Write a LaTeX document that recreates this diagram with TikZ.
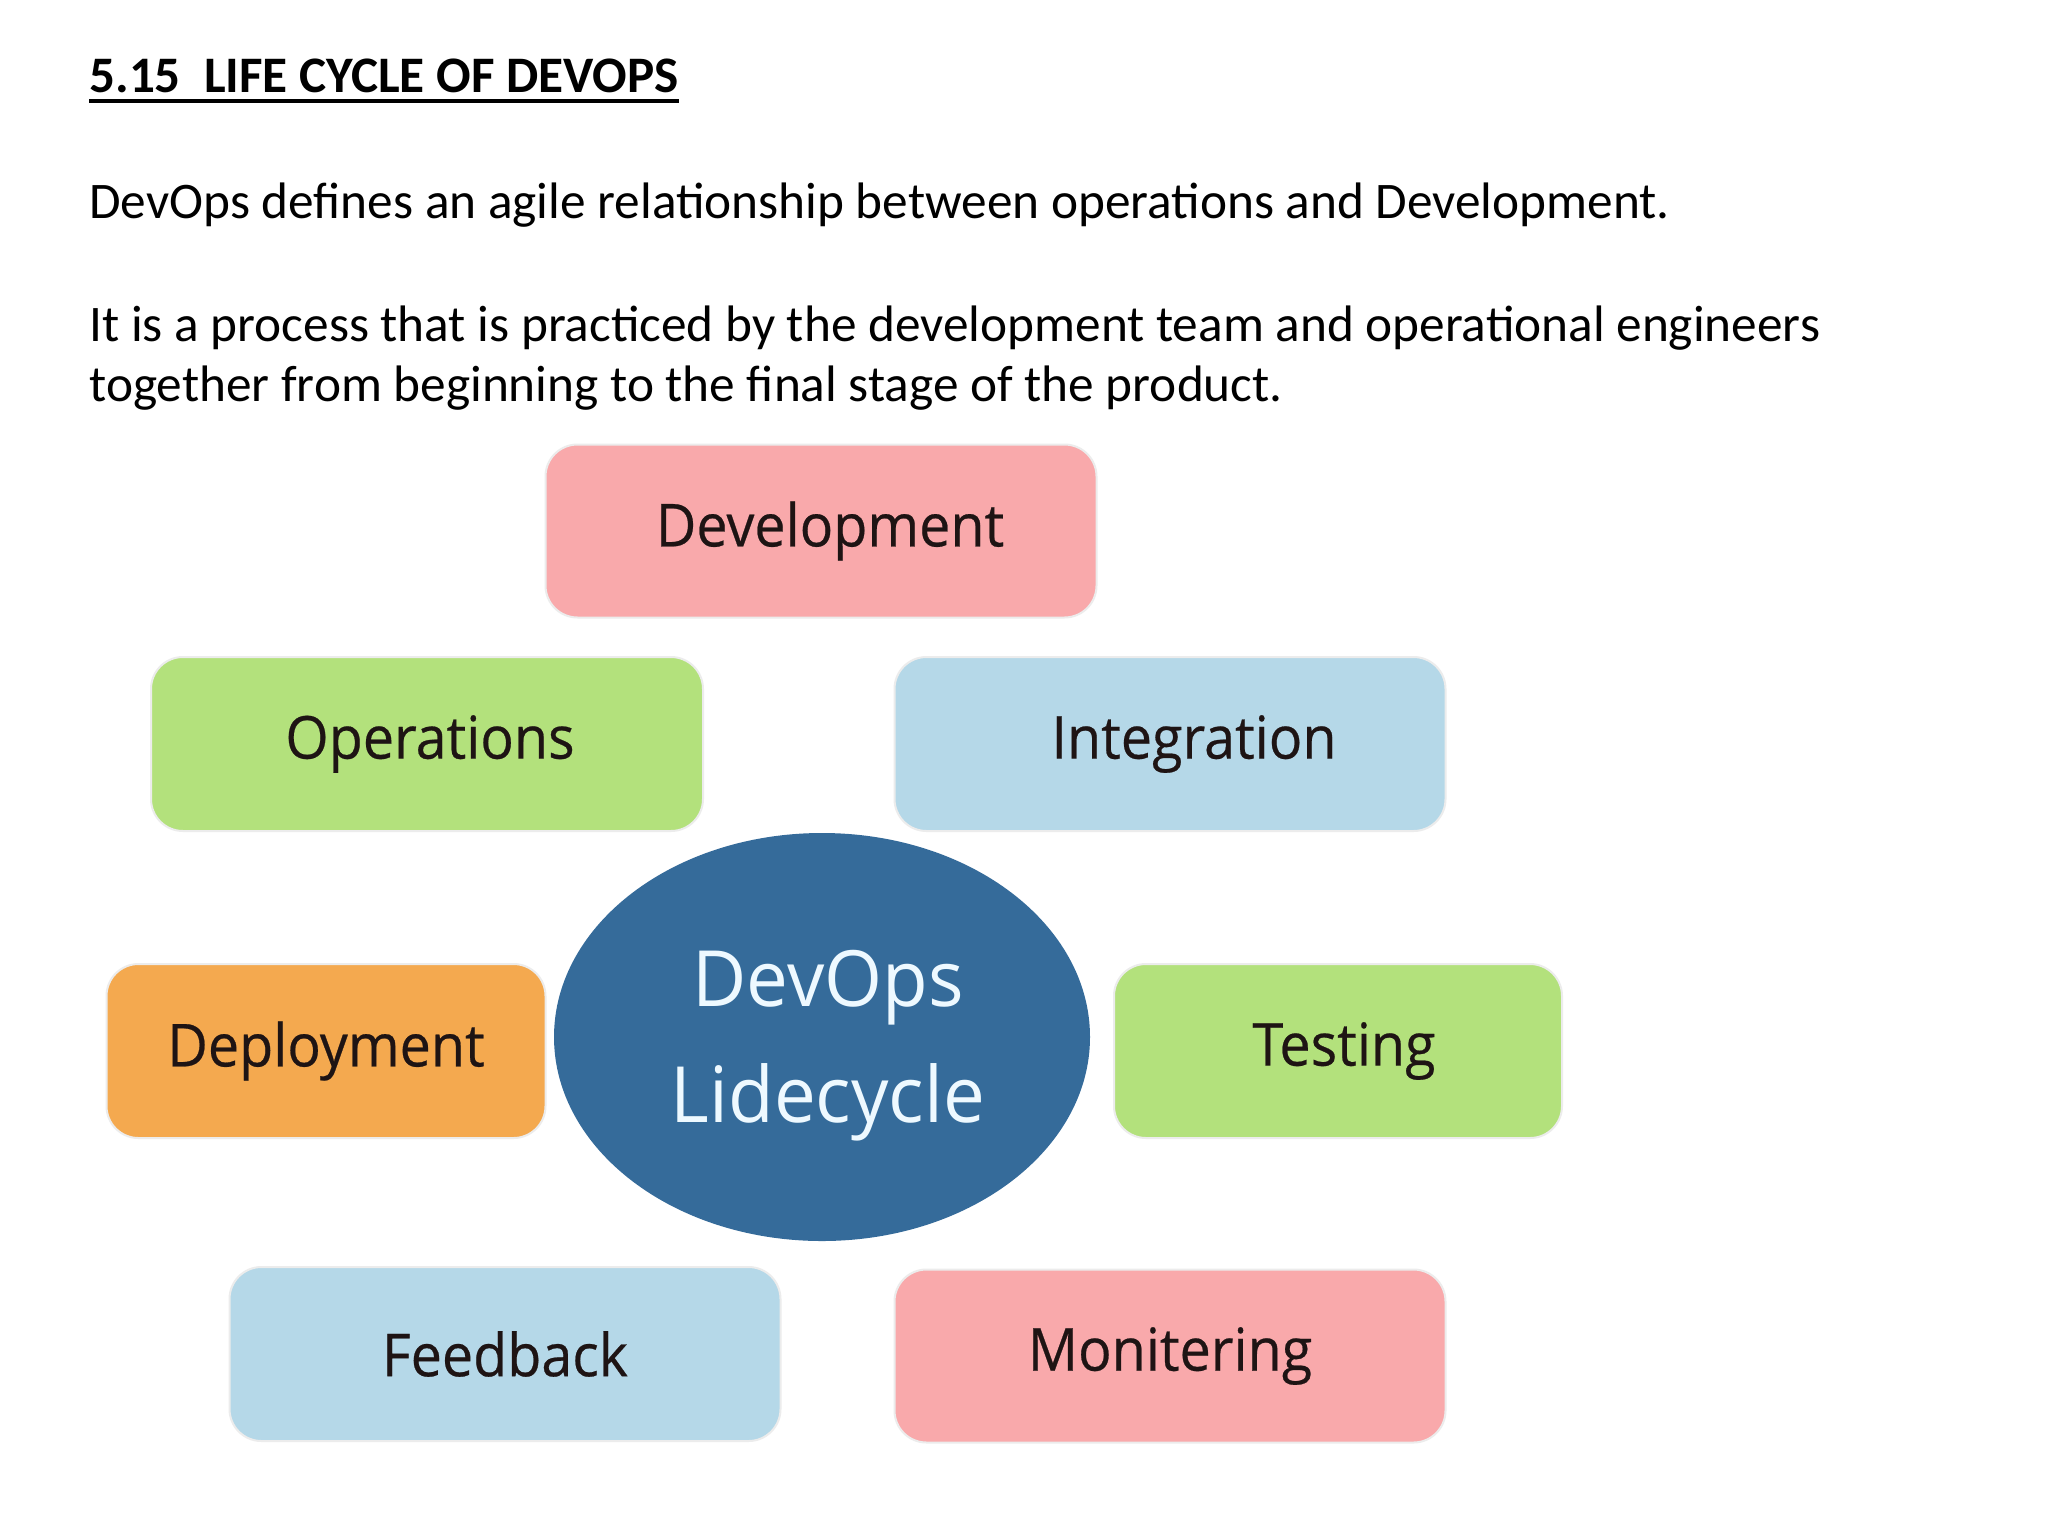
\documentclass[tikz,border=0pt]{standalone}
\usepackage{fontspec}
\setmainfont{Carlito}
\newfontfamily\boxfont[FakeBold=0.4,FakeStretch=0.94]{Open Sans}
\newfontfamily\corefont[FakeStretch=0.96]{Open Sans}
\usetikzlibrary{shapes.geometric}
\definecolor{cpink}{HTML}{F9A9AB}
\definecolor{cgreen}{HTML}{B3E17C}
\definecolor{cblue}{HTML}{B5D8E8}
\definecolor{corange}{HTML}{F4A94F}
\definecolor{cdark}{HTML}{356B9A}
\definecolor{ctext}{HTML}{1E1414}
\definecolor{cwhite}{HTML}{EEF9FF}
\tikzset{
  stage/.style={rounded corners=16pt, inner sep=0pt, text=ctext,
    font=\boxfont\fontsize{29.6}{34}\selectfont, draw=white!85!gray, line width=1pt},
  body/.style={anchor=base west, inner sep=0pt, font=\fontsize{25.65}{30}\selectfont},
}
\begin{document}
\begin{tikzpicture}[x=0.5pt,y=-0.5pt]
\useasboundingbox[fill=white] (0,0) rectangle (2048,1536);
\node[body, font=\bfseries\fontsize{25.6}{30}\selectfont] (title) at (89,92) {5.15\ \ LIFE CYCLE OF DEVOPS};
\draw[line width=2pt] ([yshift=-4.5pt]title.base west) -- ([yshift=-4.5pt]title.base east);
\node[body] (l1) at (89,218) {DevOps defines an agile relationship between operations and Development.};
\node[body] (l2) at (89,341) {It is a process that is practiced by the development team and operational engineers};
\node[body] (l3) at (89,401) {together from beginning to the final stage of the product.};

\node[stage, fill=cpink, minimum width=275.5pt, minimum height=86.5pt] (dev) at (821,531) {\hspace{9pt}Development};
\node[stage, fill=cgreen, minimum width=276pt, minimum height=87pt] (ops) at (427,744) {\hspace{3pt}Operations};
\node[stage, fill=cblue, minimum width=275.5pt, minimum height=87pt] (integ) at (1170,744) {\hspace{24pt}Integration};
\node[stage, fill=corange, minimum width=219.5pt, minimum height=87pt] (deploy) at (326,1051) {Deployment};
\node[stage, fill=cgreen, minimum width=224pt, minimum height=87pt] (test) at (1338,1051) {\hspace{6pt}Testing};
\node[stage, fill=cblue, minimum width=275.5pt, minimum height=87pt] (feed) at (505,1354) {Feedback};
\node[stage, fill=cpink, minimum width=275.5pt, minimum height=86.5pt] (mon) at (1170,1356) {Monitering};
\node[ellipse, fill=cdark, minimum width=268pt, minimum height=204pt, inner sep=0pt] (core) at (822,1037) {};
\node[inner sep=0pt, text=cwhite, align=center, font=\corefont\fontsize{38.8}{58}\selectfont,
  yshift=-4.5pt] (coretext) at ([xshift=3pt]core.center) {DevOps\\Lidecycle};
\end{tikzpicture}
\end{document}
